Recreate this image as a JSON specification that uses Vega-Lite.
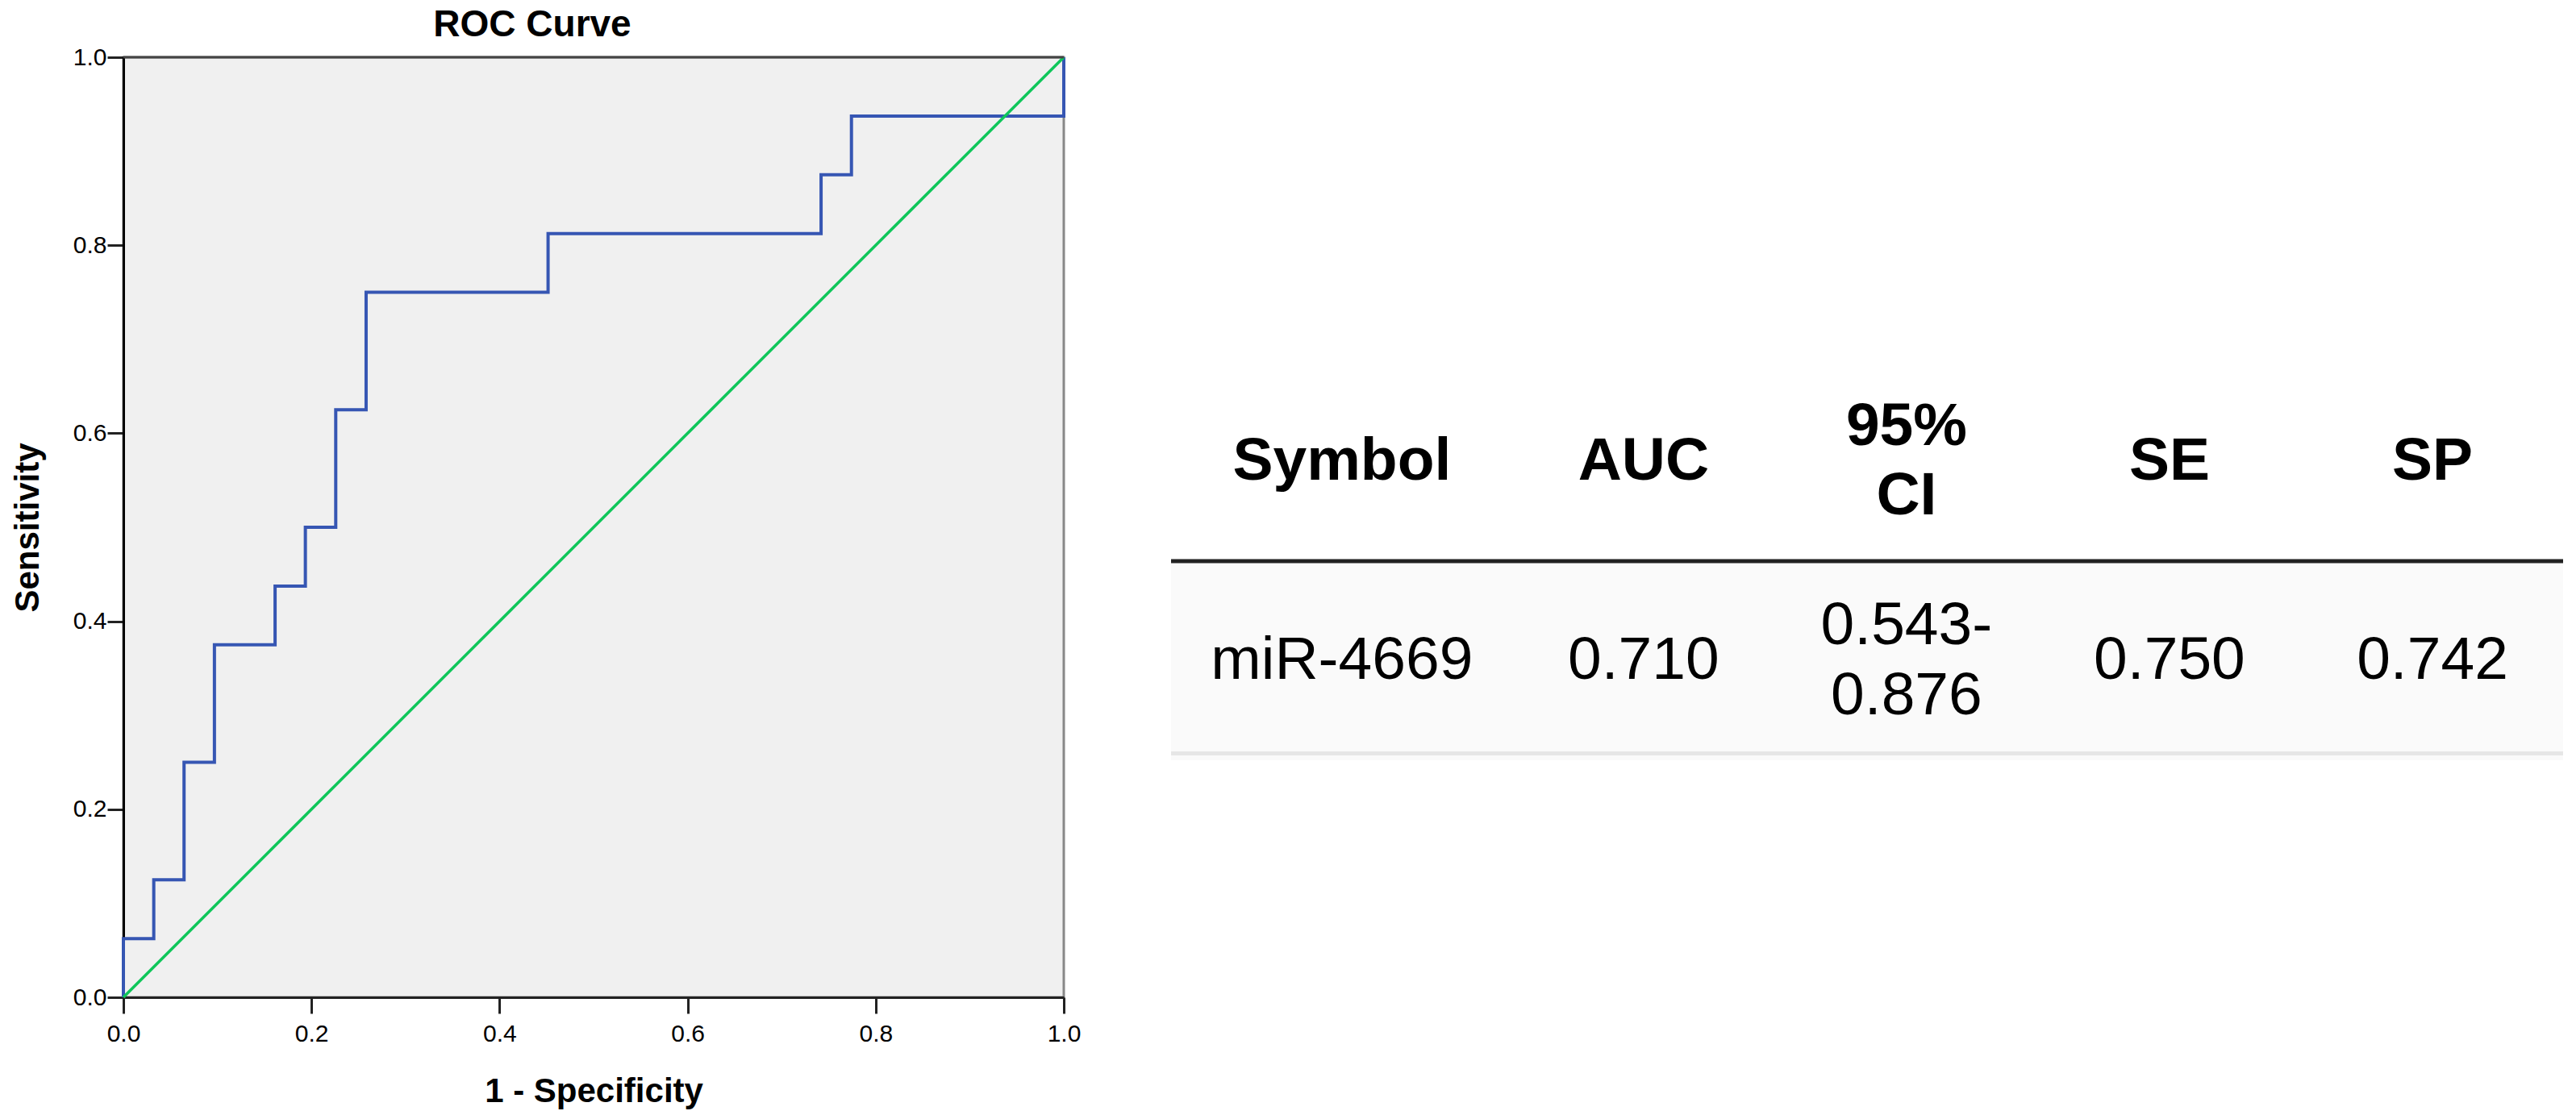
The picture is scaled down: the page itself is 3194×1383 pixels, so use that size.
{
  "$schema": "https://vega.github.io/schema/vega-lite/v6.json",
  "background": "white",
  "padding": {"left": 11, "top": 6, "right": 0, "bottom": 0},
  "bounds": "flush",
  "spacing": 133,
  "config": {"font": "Liberation Sans", "view": {"stroke": null}},
  "datasets": {
    "roc": [
      {"step": 0, "fpr": 0, "tpr": 0},
      {"step": 1, "fpr": 0, "tpr": 0.0625},
      {"step": 2, "fpr": 0.0323, "tpr": 0.0625},
      {"step": 3, "fpr": 0.0323, "tpr": 0.125},
      {"step": 4, "fpr": 0.0645, "tpr": 0.125},
      {"step": 5, "fpr": 0.0645, "tpr": 0.25},
      {"step": 6, "fpr": 0.0968, "tpr": 0.25},
      {"step": 7, "fpr": 0.0968, "tpr": 0.375},
      {"step": 8, "fpr": 0.1613, "tpr": 0.375},
      {"step": 9, "fpr": 0.1613, "tpr": 0.4375},
      {"step": 10, "fpr": 0.1935, "tpr": 0.4375},
      {"step": 11, "fpr": 0.1935, "tpr": 0.5},
      {"step": 12, "fpr": 0.2258, "tpr": 0.5},
      {"step": 13, "fpr": 0.2258, "tpr": 0.625},
      {"step": 14, "fpr": 0.2581, "tpr": 0.625},
      {"step": 15, "fpr": 0.2581, "tpr": 0.75},
      {"step": 16, "fpr": 0.4516, "tpr": 0.75},
      {"step": 17, "fpr": 0.4516, "tpr": 0.8125},
      {"step": 18, "fpr": 0.7419, "tpr": 0.8125},
      {"step": 19, "fpr": 0.7419, "tpr": 0.875},
      {"step": 20, "fpr": 0.7742, "tpr": 0.875},
      {"step": 21, "fpr": 0.7742, "tpr": 0.9375},
      {"step": 22, "fpr": 1, "tpr": 0.9375},
      {"step": 23, "fpr": 1, "tpr": 1}
    ],
    "ref": [
      {"step": 0, "fpr": 0, "tpr": 0},
      {"step": 1, "fpr": 1, "tpr": 1}
    ],
    "table": [
      {"row": "header", "col": "Symbol", "text": "Symbol"},
      {"row": "header", "col": "AUC", "text": "AUC"},
      {"row": "header", "col": "95% CI", "text": "95%\nCI"},
      {"row": "header", "col": "SE", "text": "SE"},
      {"row": "header", "col": "SP", "text": "SP"},
      {"row": "data", "col": "Symbol", "text": "miR-4669"},
      {"row": "data", "col": "AUC", "text": "0.710"},
      {"row": "data", "col": "95% CI", "text": "0.543-\n0.876"},
      {"row": "data", "col": "SE", "text": "0.750"},
      {"row": "data", "col": "SP", "text": "0.742"}
    ],
    "rows": [
      {"row": "data"}
    ]
  },
  "hconcat": [
    {
      "width": 1166,
      "height": 1166,
      "title": {
        "text": "ROC Curve",
        "fontSize": 46,
        "fontWeight": "bold",
        "font": "Liberation Sans",
        "color": "black",
        "frame": "group",
        "anchor": "middle",
        "baseline": "alphabetic",
        "offset": -35,
        "dx": -76
      },
      "view": {"fill": "#f0f0f0", "stroke": "#888888", "strokeWidth": 3},
      "layer": [
        {
          "data": {"name": "roc"},
          "mark": {"type": "line", "color": "#3656b3", "strokeWidth": 4, "interpolate": "linear"},
          "encoding": {
            "x": {
              "field": "fpr", "type": "quantitative",
              "scale": {"domain": [0, 1], "nice": false, "zero": false},
              "axis": {
                "orient": "bottom",
                "values": [0, 0.2, 0.4, 0.6, 0.8, 1],
                "format": ".1f",
                "title": "1 - Specificity",
                "titleFontSize": 42, "titleFontWeight": "bold", "titleColor": "black", "titleFont": "Liberation Sans",
                "titlePadding": 36,
                "labelFontSize": 30, "labelColor": "black", "labelFont": "Liberation Sans", "labelPadding": 10,
                "labelFlush": false, "labelOverlap": false,
                "tickSize": 20, "tickWidth": 3, "tickColor": "#222222",
                "domainColor": "#222222", "domainWidth": 3, "grid": false
              }
            },
            "y": {
              "field": "tpr", "type": "quantitative",
              "scale": {"domain": [0, 1], "nice": false, "zero": false},
              "axis": {
                "orient": "left",
                "values": [0, 0.2, 0.4, 0.6, 0.8, 1],
                "format": ".1f",
                "title": "Sensitivity",
                "titleFontSize": 42, "titleFontWeight": "bold", "titleColor": "black", "titleFont": "Liberation Sans",
                "titlePadding": 34,
                "labelFontSize": 30, "labelColor": "black", "labelFont": "Liberation Sans", "labelPadding": 1,
                "labelFlush": false, "labelOverlap": false,
                "tickSize": 20, "tickWidth": 3, "tickColor": "#222222",
                "domainColor": "black", "domainWidth": 3, "grid": false
              }
            },
            "order": {"field": "step", "type": "quantitative"}
          }
        },
        {
          "data": {"name": "ref"},
          "mark": {"type": "line", "color": "#0fc65a", "strokeWidth": 3.6},
          "encoding": {
            "x": {"field": "fpr", "type": "quantitative"},
            "y": {"field": "tpr", "type": "quantitative"},
            "order": {"field": "step", "type": "quantitative"}
          }
        },
        {
          "data": {"values": [{"edge": "top"}]},
          "mark": {"type": "rule", "color": "#444444", "strokeWidth": 3},
          "encoding": {
            "y": {"datum": 1, "type": "quantitative"}
          }
        }
      ]
    },
    {
      "width": 1726,
      "height": 988,
      "layer": [
        {
          "data": {"name": "rows"},
          "mark": {"type": "rect", "color": "#fafafa"},
          "encoding": {
            "y": {"field": "row", "type": "nominal", "scale": {"domain": ["header", "data"], "paddingInner": 0, "paddingOuter": 1, "align": 0.765}, "axis": null}
          }
        },
        {
          "data": {"name": "rows"},
          "mark": {"type": "rule", "color": "#222222", "strokeWidth": 5},
          "encoding": {
            "y": {"field": "row", "type": "nominal", "bandPosition": 0, "axis": null}
          }
        },
        {
          "data": {"name": "rows"},
          "mark": {"type": "rule", "color": "#e6e6e6", "strokeWidth": 5},
          "encoding": {
            "y": {"field": "row", "type": "nominal", "bandPosition": 0.966, "axis": null}
          }
        },
        {
          "data": {"name": "table"},
          "transform": [{"filter": "datum.row === 'header' && datum.col !== 'Symbol' && datum.col !== '95% CI'"}],
          "mark": {"type": "text", "fontSize": 75, "fontWeight": "bold", "font": "Liberation Sans", "color": "black", "align": "center", "baseline": "middle", "dy": 0},
          "encoding": {
            "x": {"field": "col", "type": "nominal", "scale": {"type": "point", "domain": ["Symbol", "AUC", "95% CI", "SE", "SP"], "padding": 0.647, "align": 0.616}, "axis": null},
            "y": {"field": "row", "type": "nominal", "axis": null},
            "text": {"field": "text", "type": "nominal"}
          }
        },
        {
          "data": {"name": "table"},
          "transform": [{"filter": "datum.row === 'header' && datum.col === 'Symbol'"}],
          "mark": {"type": "text", "fontSize": 75, "fontWeight": "bold", "font": "Liberation Sans", "color": "black", "align": "center", "baseline": "middle", "dx": -48, "dy": 0},
          "encoding": {
            "x": {"field": "col", "type": "nominal", "axis": null},
            "y": {"field": "row", "type": "nominal", "axis": null},
            "text": {"field": "text", "type": "nominal"}
          }
        },
        {
          "data": {"name": "table"},
          "transform": [{"filter": "datum.row === 'header' && datum.col === '95% CI'"}],
          "mark": {"type": "text", "fontSize": 75, "fontWeight": "bold", "font": "Liberation Sans", "color": "black", "lineBreak": "\n", "lineHeight": 86, "align": "center", "baseline": "middle", "dy": -43},
          "encoding": {
            "x": {"field": "col", "type": "nominal", "axis": null},
            "y": {"field": "row", "type": "nominal", "axis": null},
            "text": {"field": "text", "type": "nominal"}
          }
        },
        {
          "data": {"name": "table"},
          "transform": [{"filter": "datum.row === 'data' && datum.col !== 'Symbol' && datum.col !== '95% CI'"}],
          "mark": {"type": "text", "fontSize": 75, "fontWeight": "normal", "font": "Liberation Sans", "color": "black", "align": "center", "baseline": "middle", "dy": 0},
          "encoding": {
            "x": {"field": "col", "type": "nominal", "axis": null},
            "y": {"field": "row", "type": "nominal", "axis": null},
            "text": {"field": "text", "type": "nominal"}
          }
        },
        {
          "data": {"name": "table"},
          "transform": [{"filter": "datum.row === 'data' && datum.col === 'Symbol'"}],
          "mark": {"type": "text", "fontSize": 75, "fontWeight": "normal", "font": "Liberation Sans", "color": "black", "align": "center", "baseline": "middle", "dx": -48, "dy": 0},
          "encoding": {
            "x": {"field": "col", "type": "nominal", "axis": null},
            "y": {"field": "row", "type": "nominal", "axis": null},
            "text": {"field": "text", "type": "nominal"}
          }
        },
        {
          "data": {"name": "table"},
          "transform": [{"filter": "datum.row === 'data' && datum.col === '95% CI'"}],
          "mark": {"type": "text", "fontSize": 75, "fontWeight": "normal", "font": "Liberation Sans", "color": "black", "lineBreak": "\n", "lineHeight": 87, "align": "center", "baseline": "middle", "dy": -43},
          "encoding": {
            "x": {"field": "col", "type": "nominal", "axis": null},
            "y": {"field": "row", "type": "nominal", "axis": null},
            "text": {"field": "text", "type": "nominal"}
          }
        }
      ]
    }
  ]
}
